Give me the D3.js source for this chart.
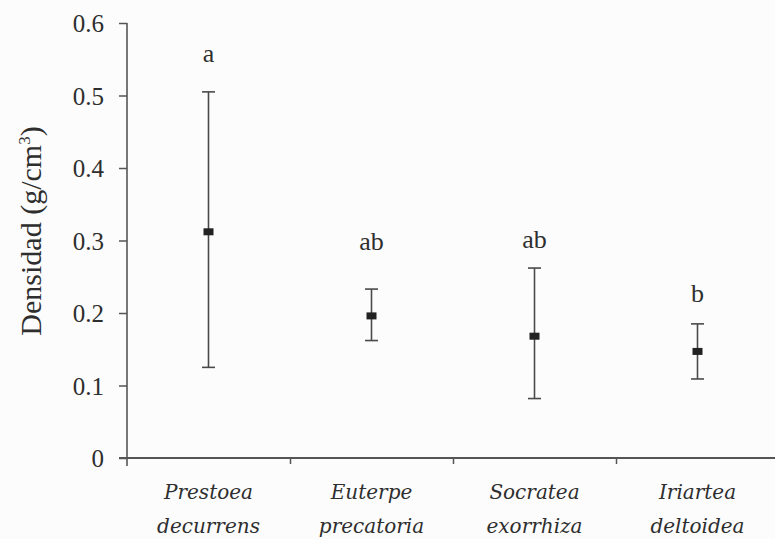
<!DOCTYPE html>
<html>
<head>
<meta charset="utf-8">
<script src="https://cdn.jsdelivr.net/npm/d3@7"></script>
<style>
  html, body { margin: 0; padding: 0; background: #fcfcfc; }
  svg { display: block; }
  text { font-family: "Liberation Serif", "Times New Roman", serif; fill: #2e2e2e; }
  text.species { font-family: "DejaVu Serif", serif; font-style: italic; }
</style>
</head>
<body>
<svg id="chart" width="775" height="539"></svg>
<script>
// Palm species (two-line italic names)
const species = [
  ["Prestoea", "decurrens"],
  ["Euterpe", "precatoria"],
  ["Socratea", "exorrhiza"],
  ["Iriartea", "deltoidea"]
];
// Mean wood density (g/cm³) and the range shown by each error bar
const meanDensity = [0.312, 0.196, 0.168, 0.147];
const lowerDensity = [0.125, 0.162, 0.082, 0.109];
const upperDensity = [0.505, 0.233, 0.262, 0.185];
// Significance groups and the height (g/cm³) at which each letter sits
const groupLetters = ["a", "ab", "ab", "b"];
const letterLevel = [0.546, 0.287, 0.290, 0.215];
// Y axis ticks
const yTicks = [0, 0.1, 0.2, 0.3, 0.4, 0.5, 0.6];
const yTickLabels = ["0", "0.1", "0.2", "0.3", "0.4", "0.5", "0.6"];

const W = 775, H = 539;
const plotLeft = 127, plotRight = 779, plotTop = 23, plotBottom = 458;
const svg = d3.select("#chart");

const keys = species.map(s => s.join(" "));
const x = d3.scaleBand().domain(keys).range([plotLeft, plotRight]).padding(0);
const xEdge = d3.scaleLinear().domain([0, keys.length]).range([plotLeft, plotRight]);
const y = d3.scaleLinear().domain([0, 0.6]).range([plotBottom, plotTop]);

const axisColor = "#555";

// Y axis
const yAxis = svg.append("g")
  .attr("transform", `translate(${plotLeft},0)`)
  .call(d3.axisLeft(y).tickValues(yTicks)
    .tickFormat((d, i) => yTickLabels[i])
    .tickSize(8).tickSizeOuter(0).tickPadding(15));
yAxis.select(".domain").remove();
yAxis.selectAll("line").attr("stroke", axisColor).attr("stroke-width", 1.5);
yAxis.selectAll("text").attr("font-size", 25).attr("fill", "#2e2e2e")
  .attr("font-family", "Liberation Serif, serif").attr("dy", "0.34em");
svg.append("line")
  .attr("x1", plotLeft).attr("x2", plotLeft)
  .attr("y1", y(0.6)).attr("y2", plotBottom + 8)
  .attr("stroke", axisColor).attr("stroke-width", 1.6);

// X axis with ticks at category boundaries
const xAxis = svg.append("g")
  .attr("transform", `translate(0,${plotBottom})`)
  .call(d3.axisBottom(xEdge).tickValues([1, 2, 3])
    .tickFormat("").tickSize(6).tickSizeOuter(0));
xAxis.select(".domain").remove();
xAxis.selectAll("line").attr("stroke", axisColor).attr("stroke-width", 1.5);
svg.append("line")
  .attr("x1", plotLeft - 8).attr("x2", W)
  .attr("y1", plotBottom).attr("y2", plotBottom)
  .attr("stroke", axisColor).attr("stroke-width", 1.8);

// Category labels
const labels = svg.append("g");
species.forEach((lines, i) => {
  const cx = x(keys[i]) + x.bandwidth() / 2;
  const t = labels.append("text")
    .attr("class", "species")
    .attr("text-anchor", "middle")
    .attr("font-size", 20);
  lines.forEach((ln, j) => {
    t.append("tspan").attr("x", cx).attr("y", 499 + j * 34).text(ln);
  });
});

// Y axis title
svg.append("text")
  .attr("transform", `translate(41,${231}) rotate(-90)`)
  .attr("text-anchor", "middle")
  .attr("font-size", 30)
  .html('Densidad (g/cm<tspan font-size="17" dy="-11">3</tspan><tspan dy="11">)</tspan>');

// Error bars with mean markers
const cap = 6.5;
const bars = svg.append("g");
keys.forEach((k, i) => {
  const cx = x(k) + x.bandwidth() / 2;
  const g = bars.append("g");
  g.append("line")
    .attr("x1", cx).attr("x2", cx)
    .attr("y1", y(lowerDensity[i])).attr("y2", y(upperDensity[i]))
    .attr("stroke", "#4a4a4a").attr("stroke-width", 1.6);
  [lowerDensity[i], upperDensity[i]].forEach(v => {
    g.append("line")
      .attr("x1", cx - cap).attr("x2", cx + cap)
      .attr("y1", y(v)).attr("y2", y(v))
      .attr("stroke", "#4a4a4a").attr("stroke-width", 1.6);
  });
  g.append("rect")
    .attr("x", cx - 5).attr("y", y(meanDensity[i]) - 3.5)
    .attr("width", 10).attr("height", 7)
    .attr("fill", "#222");
  svg.append("text")
    .attr("x", cx).attr("y", y(letterLevel[i]))
    .attr("text-anchor", "middle")
    .attr("font-size", 26)
    .text(groupLetters[i]);
});
</script>
</body>
</html>
